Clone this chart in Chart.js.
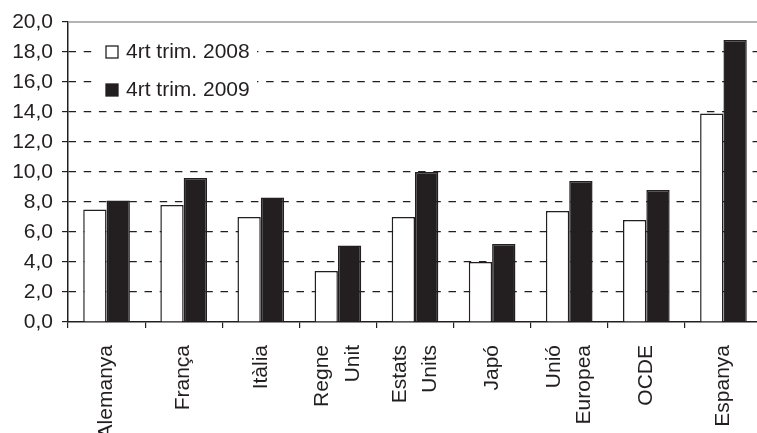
<!DOCTYPE html>
<html>
<head>
<meta charset="utf-8">
<script src="https://cdn.jsdelivr.net/npm/chart.js@4"></script>
<style>
  html, body { margin: 0; padding: 0; background: #fff; overflow: hidden; }
  #c { display: block; }
</style>
</head>
<body>
<canvas id="c" width="762" height="433" style="width:762px;height:433px"></canvas>
<script>
const categories = ['Alemanya', 'França', 'Itàlia', ['Regne', 'Unit'], ['Estats', 'Units'], 'Japó', ['Unió', 'Europea'], 'OCDE', 'Espanya'];
const seriesNames = ['4rt trim. 2008', '4rt trim. 2009'];
const values2008 = [7.5, 7.8, 7.0, 3.4, 7.0, 4.0, 7.4, 6.8, 13.9];
const values2009 = [8.1, 9.6, 8.3, 5.1, 10.0, 5.2, 9.4, 8.8, 18.8];
const yTickLabels = ['0,0', '2,0', '4,0', '6,0', '8,0', '10,0', '12,0', '14,0', '16,0', '18,0', '20,0'];

const INK = '#231f20';
const FONT = "'Liberation Sans', Arial, sans-serif";
const LABEL_SIZE = 21;
const LABEL_LH = 1.45;

const innerLegend = {
  id: 'innerLegend',
  afterDatasetsDraw(chart) {
    const ctx = chart.ctx;
    const a = chart.chartArea;
    // top frame line
    ctx.save();
    ctx.strokeStyle = '#9a9a9a';
    ctx.lineWidth = 1.5;
    ctx.beginPath();
    ctx.moveTo(a.left, a.top);
    ctx.lineTo(a.right, a.top);
    ctx.stroke();
    // legend box
    const lx = a.left + 24, ly = a.top + 13;
    ctx.fillStyle = '#fff';
    ctx.fillRect(lx, ly, 165, 72);
    const rows = [a.top + 30, a.top + 68];
    ctx.font = '21px ' + FONT;
    ctx.textBaseline = 'middle';
    ctx.textAlign = 'left';
    chart.data.datasets.forEach((ds, i) => {
      const cy = rows[i];
      ctx.fillStyle = ds.backgroundColor;
      ctx.fillRect(a.left + 38, cy - 6, 12, 12);
      ctx.strokeStyle = INK;
      ctx.lineWidth = 1.3;
      ctx.strokeRect(a.left + 38, cy - 6, 12, 12);
      ctx.fillStyle = INK;
      ctx.fillText(ds.label, a.left + 58, cy);
    });
    ctx.restore();
  }
};

new Chart(document.getElementById('c'), {
  type: 'bar',
  data: {
    labels: categories,
    datasets: [
      { label: seriesNames[0], data: values2008, backgroundColor: '#ffffff', borderColor: INK, borderWidth: 1.5 },
      { label: seriesNames[1], data: values2009, backgroundColor: INK, borderColor: INK, borderWidth: 1.5 }
    ]
  },
  options: {
    responsive: false,
    maintainAspectRatio: false,
    animation: false,
    devicePixelRatio: 1,
    layout: { padding: { top: 22, right: 0, left: 0, bottom: 0 } },
    datasets: { bar: { categoryPercentage: 0.605, barPercentage: 1.0 } },
    plugins: { legend: { display: false }, tooltip: { enabled: false } },
    scales: {
      x: {
        grid: { display: true, drawOnChartArea: false, drawTicks: true, tickLength: 6, color: INK, tickColor: INK, lineWidth: 1.2, offset: true },
        border: { display: true, color: INK, width: 1.5 },
        ticks: {
          color: INK, font: { family: FONT, size: LABEL_SIZE, lineHeight: LABEL_LH },
          minRotation: 90, maxRotation: 90, autoSkip: false, padding: 17,
          labelOffset: -LABEL_SIZE * LABEL_LH / 2,
          showLabelBackdrop: ctx => !Array.isArray(categories[ctx.index]),
          backdropColor: 'rgba(0,0,0,0)',
          backdropPadding: 0
        },
        afterFit(s) { s.height = 111; s.paddingRight = 0; s.paddingLeft = 0; }
      },
      y: {
        min: 0, max: 20,
        ticks: {
          stepSize: 2, color: INK, padding: 9,
          font: { family: FONT, size: 21 },
          callback: (v, i) => yTickLabels[i]
        },
        grid: {
          color: ctx => (ctx.tick && (ctx.tick.value === 0 || ctx.tick.value === 20)) ? 'rgba(0,0,0,0)' : INK,
          tickColor: INK, tickLength: 6, lineWidth: 1.2, drawTicks: true
        },
        border: { display: true, color: INK, width: 1.5, dash: [7.5, 7.7] },
        afterFit(s) { s.width = 68; }
      }
    }
  },
  plugins: [innerLegend]
});
</script>
</body>
</html>
